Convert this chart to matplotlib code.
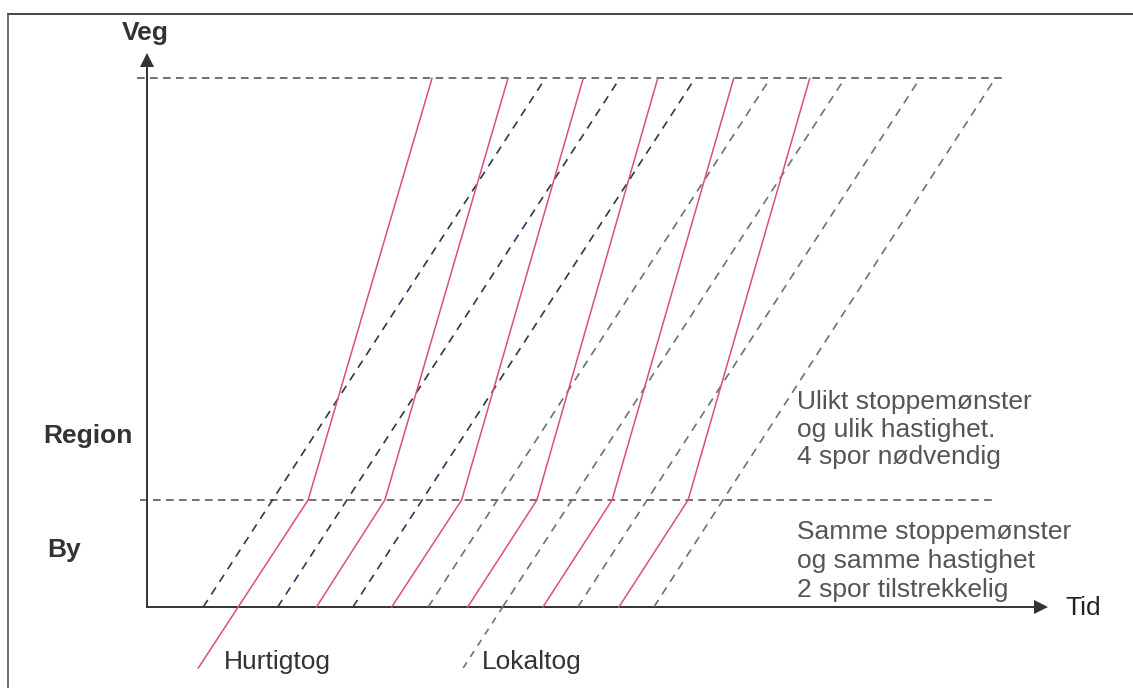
import matplotlib.pyplot as plt
from matplotlib.lines import Line2D

plt.rcParams['font.family'] = ['Liberation Sans', 'DejaVu Sans']

# distances (km) of the section boundaries
d_city = 10.0
d_end = 49.4

# Hurtigtog: departure, end of city section, arrival (minutes)
express_dep = [12.0, 22.3, 32.2, 42.2, 52.1, 62.1]
express_city = [21.2, 31.3, 41.4, 51.3, 61.2, 71.2]
express_arr = [37.5, 47.5, 57.4, 67.2, 77.2, 87.2]

# Lokaltog: departure, arrival (minutes)
local_dep = [7.4, 17.2, 27.1, 37.0, 46.8, 56.7, 66.7]
local_arr = [52.4, 62.2, 72.1, 82.0, 91.8, 101.7, 111.6]
local_dark = [True, True, True, False, False, False, False]

legend_d = -5.7  # how far the legend strokes run below the time axis

W, H = 1133, 688
fig = plt.figure(figsize=(W / 100, H / 100), dpi=100)
ax = fig.add_axes([0, 0, 1, 1])
ax.set_xlim(-19.34, 129.74)
ax.set_ylim(-7.57, 56.73)
ax.axis('off')

pink = '#dc4f78'
grid_c = '#4a4a4a'

# section boundaries
ax.plot([-1.3, 112.9], [d_end, d_end], color=grid_c, lw=1.1, dashes=(5, 3.5))
ax.plot([-0.9, 111.6], [d_city, d_city], color=grid_c, lw=1.1, dashes=(5, 3.5))

# axes with arrows
ax.plot([0, 0], [0, 50.4], color='#333333', lw=1.4)
ax.plot([0], [51.1], marker='^', color='#333333', ms=10, mew=0)
ax.plot([0, 116.8], [0, 0], color='#333333', lw=1.4)
ax.plot([117.6], [0], marker='>', color='#333333', ms=10, mew=0)

# local trains
for i, (t0, t1) in enumerate(zip(local_dep, local_arr)):
    c = '#2f3558' if local_dark[i] else '#6b6f80'
    ax.plot([t0, t1], [0, d_end], color=c, lw=1.2, dashes=(5, 4))
# legend stroke for local trains
k = 4
slope = (local_arr[k] - local_dep[k]) / d_end
ax.plot([local_dep[k] + slope * legend_d, local_dep[k]], [legend_d, 0],
        color='#6b6f80', lw=1.2, dashes=(4, 4))

# express trains
for t0, t1, t2 in zip(express_dep, express_city, express_arr):
    ax.plot([t0, t1, t2], [0, d_city, d_end], color=pink, lw=1.1)
# legend stroke for express trains
slope = (express_city[0] - express_dep[0]) / d_city
ax.plot([express_dep[0] + slope * legend_d, express_dep[0]], [legend_d, 0],
        color=pink, lw=1.1)

# frame
fig.add_artist(Line2D([8 / W, 1], [1 - 14 / H] * 2, color='#444444', lw=1.4))
fig.add_artist(Line2D([8 / W] * 2, [0, 1 - 14 / H], color='#555555', lw=1.2))


def label(x, y, s, **kw):
    fig.text(x / W, 1 - y / H, s, va='center', **kw)


label(145, 33, 'Veg', ha='center', fontsize=19, fontweight='bold', color='#333333')
label(43, 436, 'Region', fontsize=19, fontweight='bold', color='#333333')
label(47, 550, 'By', fontsize=19, fontweight='bold', color='#333333')
label(1065, 608, 'Tid', fontsize=19, color='#222222')
label(224, 662, 'Hurtigtog', fontsize=19, color='#333333')
label(482, 662, 'Lokaltog', fontsize=19, color='#333333')

for y, s in zip([402, 430, 457],
                ['Ulikt stoppemønster', 'og ulik hastighet.', '4 spor nødvendig']):
    label(797, y, s, fontsize=19, color='#555555')
for y, s in zip([532, 561, 590],
                ['Samme stoppemønster', 'og samme hastighet', '2 spor tilstrekkelig']):
    label(797, y, s, fontsize=19, color='#555555')

fig.savefig('out.png', dpi=100)
